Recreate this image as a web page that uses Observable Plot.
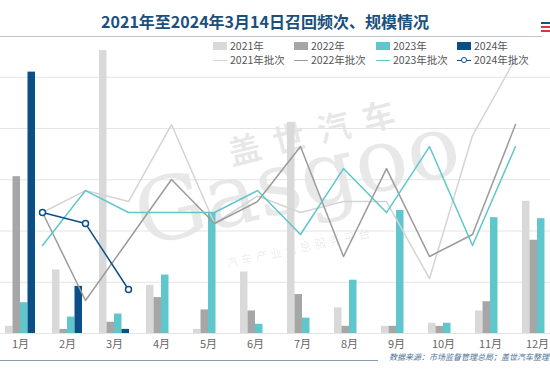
<!DOCTYPE html>
<html><head><meta charset="utf-8">
<script src="https://cdn.jsdelivr.net/npm/d3@7"></script>
<script src="https://cdn.jsdelivr.net/npm/@observablehq/plot@0.6"></script>
<style>
body{margin:0;background:#fff;font-family:"Noto Sans CJK SC","Noto Sans",sans-serif;}
#wrap{position:relative;width:550px;height:378px;overflow:hidden;background:#fff;}
.abs{position:absolute;}
#title{left:0;width:530px;top:10px;text-align:center;font-size:16px;font-weight:bold;color:#1b4f7c;line-height:22px;}
#tline{left:0;top:36px;width:542px;height:1px;background:#b8c7d3;}
.lg{position:absolute;font-size:10.5px;color:#555;line-height:12px;height:12px;white-space:nowrap;}
.sw{display:inline-block;width:14px;height:8px;vertical-align:middle;margin-right:3px;margin-top:-2px;}
.ln{display:inline-block;width:14px;height:0;vertical-align:middle;margin-right:3px;margin-top:-2px;position:relative;}
#bline{left:0;top:360px;width:378px;height:1px;background:#7f9db5;}
#src{left:389px;top:351px;font-size:8px;line-height:11px;font-style:italic;color:#4d7296;white-space:nowrap;}
.wm{position:absolute;color:rgba(0,0,0,0.09);white-space:nowrap;transform-origin:left center;}
svg{position:absolute;left:0;top:0;overflow:visible;}
#logo{left:541px;top:18px;width:12px;height:16px;}
#logo div{position:absolute;left:0;width:12px;height:2px;background:#d9363e;}
</style></head><body>
<div id="wrap">
  <div id="title" class="abs">2021年至2024年3月14日召回频次、规模情况</div>
  <div id="tline" class="abs"></div>
  <div id="logo" class="abs"><div style="top:4px;background:#1b4f7c"></div><div style="top:8px"></div><div style="top:12px"></div></div>
  <div class="wm" style="left:228px;top:128px;font-size:33px;font-weight:bold;transform:rotate(-14deg);letter-spacing:13px;">盖世汽车</div>
  <div class="wm" style="left:136px;top:165px;font-size:88px;font-family:'DejaVu Serif',serif;transform:rotate(-13deg);">Gasgoo</div>
  <div class="wm" style="left:226px;top:254px;font-size:12px;transform:rotate(-12deg);letter-spacing:3px;">汽车产业信息服务平台</div>
  <div id="bars"></div>
  <div id="lines"></div>
  <div id="legend"></div>
  <div id="bline" class="abs"></div>
  <div id="src" class="abs">数据来源：市场监督管理总局；盖世汽车整理</div>
</div>
<script>
// Categories
const months = ["1月","2月","3月","4月","5月","6月","7月","8月","9月","10月","11月","12月"];
// Recall scale (bars)
const scale2021 = [7, 62, 276, 47, 4, 60, 206, 25, 7, 10, 22, 129];
const scale2022 = [153, 4, 11, 35, 23, 22, 38, 7, 7, 7, 31, 91];
const scale2023 = [30, 16, 19, 57, 118, 9, 15, 52, 120, 10, 113, 112];
const scale2024 = [255, 46, 4];
// Recall batches (lines)
const batch2021 = [22, 26, 24, 38, 20, 25, 22, 24, 24, 10, 36, 50];
const batch2022 = [22, 6, 17, 28, 20, 24, 34, 14, 30, 14, 18, 38];
const batch2023 = [16, 26, 22, 22, 22, 26, 18, 30, 22, 34, 16, 34];
const batch2024 = [22, 20, 8];
// Grid ticks
const gridTicks = [0, 50, 100, 150, 200, 250];

const barSeries = [
  {name: "2021年", values: scale2021, color: "#d9d9d9"},
  {name: "2022年", values: scale2022, color: "#a6a6a6"},
  {name: "2023年", values: scale2023, color: "#5fc6cc"},
  {name: "2024年", values: scale2024, color: "#0c4f86"}
];
const lineSeries = [
  {name: "2021年批次", values: batch2021, color: "#d4d4d4"},
  {name: "2022年批次", values: batch2022, color: "#9b9b9b"},
  {name: "2023年批次", values: batch2023, color: "#5fc6cc"},
  {name: "2024年批次", values: batch2024, color: "#0c4f86"}
];

const W = 550, H = 378;
const bandW = 30, slot = bandW / barSeries.length;

const barMarks = barSeries.map((s, k) => Plot.barY(
  s.values.map((v, i) => ({month: months[i], value: v})),
  {x: "month", y: "value", fill: s.color, insetLeft: slot * k, insetRight: bandW - slot * (k + 1)}
));

const barsPlot = Plot.plot({
  width: W, height: H,
  marginTop: 46, marginBottom: 45, marginLeft: 0, marginRight: 0,
  style: {background: "transparent", fontFamily: "'Noto Sans CJK SC', sans-serif"},
  x: {domain: months, range: [-12, 569], padding: 1 - 30 / 47, label: null},
  y: {domain: [0, 280], axis: null},
  marks: [
    Plot.ruleY(gridTicks, {stroke: "#e4e4e4", strokeWidth: 1}),
    ...barMarks,
    Plot.axisX({tickSize: 0, tickPadding: 7, fontSize: 11, color: "#666", label: null})
  ]
});
document.getElementById("bars").appendChild(barsPlot);

const lineMarks = lineSeries.flatMap(s => {
  const data = s.values.map((v, i) => ({month: months[i], value: v}));
  const ms = [Plot.lineY(data, {x: "month", y: "value", stroke: s.color, strokeWidth: 1.5})];
  if (s.name === "2024年批次") ms.push(Plot.dot(data, {x: "month", y: "value", r: 3, fill: "#fff", stroke: s.color, strokeWidth: 1.5}));
  return ms;
});

const linesPlot = Plot.plot({
  width: W, height: H,
  marginTop: 46, marginBottom: 45, marginLeft: 0, marginRight: 0,
  style: {background: "transparent"},
  x: {type: "point", domain: months, range: [20, 537], axis: null},
  y: {domain: [0, 52.2], axis: null},
  marks: lineMarks
});
document.getElementById("lines").appendChild(linesPlot);

// Legend
const legend = document.getElementById("legend");
const colX = [213, 294, 376, 457];
barSeries.forEach((s, k) => {
  const d = document.createElement("div");
  d.className = "lg";
  d.style.left = colX[k] + "px"; d.style.top = "40px";
  d.innerHTML = `<span class="sw" style="background:${s.color}"></span>${s.name}`;
  legend.appendChild(d);
});
lineSeries.forEach((s, k) => {
  const d = document.createElement("div");
  d.className = "lg";
  d.style.left = colX[k] + "px"; d.style.top = "54px";
  const dot = s.name === "2024年批次" ? `<span style="position:absolute;left:4px;top:-3.5px;width:4px;height:4px;border:1.2px solid ${s.color};border-radius:50%;background:#fff"></span>` : "";
  d.innerHTML = `<span class="ln" style="border-top:1.5px solid ${s.color}">${dot}</span>${s.name}`;
  legend.appendChild(d);
});
</script>
</body></html>
